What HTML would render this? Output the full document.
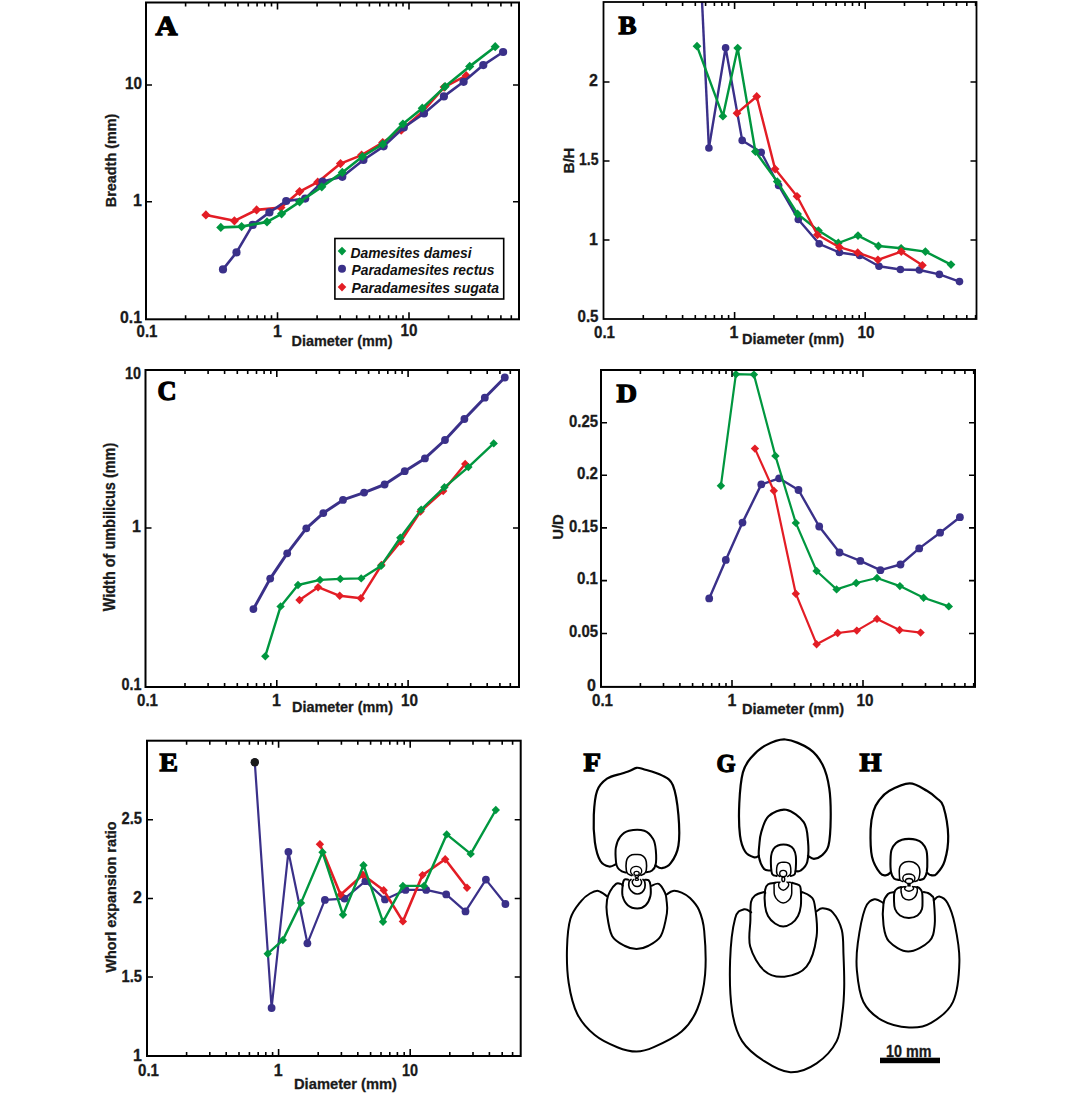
<!DOCTYPE html><html><head><meta charset="utf-8"><style>html,body{margin:0;padding:0;background:#fff;overflow:hidden}svg{display:block}</style></head><body>
<svg width="1081" height="1093" viewBox="0 0 1081 1093">
<rect width="1081" height="1093" fill="#fff"/>
<clipPath id="cA"><rect x="146" y="2.5" width="373" height="317"/></clipPath>
<path d="M205.9 214.9 L234.4 220.8 L256.6 209.9 L280.9 207.6 L299.6 191.6 L317.7 182.2 L340.5 163.6 L361.6 155.1 L382.7 142.5 L401.2 130.2 L423.1 111.2 L444.2 87.1 L466.2 75.7" stroke="#e31d25" stroke-width="2.6" fill="none" stroke-linejoin="round"/>
<path d="M205.9 210.3L210.5 214.9L205.9 219.5L201.3 214.9Z" fill="#e31d25"/>
<path d="M234.4 216.20000000000002L239.0 220.8L234.4 225.4L229.8 220.8Z" fill="#e31d25"/>
<path d="M256.6 205.3L261.20000000000005 209.9L256.6 214.5L252.00000000000003 209.9Z" fill="#e31d25"/>
<path d="M280.9 203.0L285.5 207.6L280.9 212.2L276.29999999999995 207.6Z" fill="#e31d25"/>
<path d="M299.6 187.0L304.20000000000005 191.6L299.6 196.2L295.0 191.6Z" fill="#e31d25"/>
<path d="M317.7 177.6L322.3 182.2L317.7 186.79999999999998L313.09999999999997 182.2Z" fill="#e31d25"/>
<path d="M340.5 159.0L345.1 163.6L340.5 168.2L335.9 163.6Z" fill="#e31d25"/>
<path d="M361.6 150.5L366.20000000000005 155.1L361.6 159.7L357.0 155.1Z" fill="#e31d25"/>
<path d="M382.7 137.9L387.3 142.5L382.7 147.1L378.09999999999997 142.5Z" fill="#e31d25"/>
<path d="M401.2 125.6L405.8 130.2L401.2 134.79999999999998L396.59999999999997 130.2Z" fill="#e31d25"/>
<path d="M423.1 106.60000000000001L427.70000000000005 111.2L423.1 115.8L418.5 111.2Z" fill="#e31d25"/>
<path d="M444.2 82.5L448.8 87.1L444.2 91.69999999999999L439.59999999999997 87.1Z" fill="#e31d25"/>
<path d="M466.2 71.10000000000001L470.8 75.7L466.2 80.3L461.59999999999997 75.7Z" fill="#e31d25"/>
<path d="M223 269.4 L236.5 252.4 L252.7 224.9 L269.4 212.4 L286.2 201 L305.2 198.6 L322.5 181.6 L342.3 176.8 L363.4 160 L383.6 146.3 L403.8 127.5 L424 113.5 L443.9 96.4 L463.6 81.8 L483.3 65.1 L503.1 52" stroke="#3a3089" stroke-width="2.6" fill="none" stroke-linejoin="round"/>
<circle cx="223" cy="269.4" r="4.1" fill="#3a3089"/>
<circle cx="236.5" cy="252.4" r="4.1" fill="#3a3089"/>
<circle cx="252.7" cy="224.9" r="4.1" fill="#3a3089"/>
<circle cx="269.4" cy="212.4" r="4.1" fill="#3a3089"/>
<circle cx="286.2" cy="201" r="4.1" fill="#3a3089"/>
<circle cx="305.2" cy="198.6" r="4.1" fill="#3a3089"/>
<circle cx="322.5" cy="181.6" r="4.1" fill="#3a3089"/>
<circle cx="342.3" cy="176.8" r="4.1" fill="#3a3089"/>
<circle cx="363.4" cy="160" r="4.1" fill="#3a3089"/>
<circle cx="383.6" cy="146.3" r="4.1" fill="#3a3089"/>
<circle cx="403.8" cy="127.5" r="4.1" fill="#3a3089"/>
<circle cx="424" cy="113.5" r="4.1" fill="#3a3089"/>
<circle cx="443.9" cy="96.4" r="4.1" fill="#3a3089"/>
<circle cx="463.6" cy="81.8" r="4.1" fill="#3a3089"/>
<circle cx="483.3" cy="65.1" r="4.1" fill="#3a3089"/>
<circle cx="503.1" cy="52" r="4.1" fill="#3a3089"/>
<path d="M220.8 227.4 L241.6 226.6 L267 221.9 L281.6 213.8 L299.6 201.8 L321.8 186.8 L342.3 172.4 L362.5 156.5 L382.7 144.2 L402.9 124 L422.3 108.2 L445.1 86.6 L469.7 66.4 L495.2 46.7" stroke="#00973f" stroke-width="2.6" fill="none" stroke-linejoin="round"/>
<path d="M220.8 222.8L225.4 227.4L220.8 232.0L216.20000000000002 227.4Z" fill="#00973f"/>
<path d="M241.6 222.0L246.2 226.6L241.6 231.2L237.0 226.6Z" fill="#00973f"/>
<path d="M267 217.3L271.6 221.9L267 226.5L262.4 221.9Z" fill="#00973f"/>
<path d="M281.6 209.20000000000002L286.20000000000005 213.8L281.6 218.4L277.0 213.8Z" fill="#00973f"/>
<path d="M299.6 197.20000000000002L304.20000000000005 201.8L299.6 206.4L295.0 201.8Z" fill="#00973f"/>
<path d="M321.8 182.20000000000002L326.40000000000003 186.8L321.8 191.4L317.2 186.8Z" fill="#00973f"/>
<path d="M342.3 167.8L346.90000000000003 172.4L342.3 177.0L337.7 172.4Z" fill="#00973f"/>
<path d="M362.5 151.9L367.1 156.5L362.5 161.1L357.9 156.5Z" fill="#00973f"/>
<path d="M382.7 139.6L387.3 144.2L382.7 148.79999999999998L378.09999999999997 144.2Z" fill="#00973f"/>
<path d="M402.9 119.4L407.5 124L402.9 128.6L398.29999999999995 124Z" fill="#00973f"/>
<path d="M422.3 103.60000000000001L426.90000000000003 108.2L422.3 112.8L417.7 108.2Z" fill="#00973f"/>
<path d="M445.1 82.0L449.70000000000005 86.6L445.1 91.19999999999999L440.5 86.6Z" fill="#00973f"/>
<path d="M469.7 61.800000000000004L474.3 66.4L469.7 71.0L465.09999999999997 66.4Z" fill="#00973f"/>
<path d="M495.2 42.1L499.8 46.7L495.2 51.300000000000004L490.59999999999997 46.7Z" fill="#00973f"/>
<rect x="146" y="2.5" width="373" height="316.8" fill="none" stroke="#000" stroke-width="2"/>
<path d="M185.6 319.3V315.3M185.6 2.5V6.5M208.7 319.3V315.3M208.7 2.5V6.5M225.2 319.3V315.3M225.2 2.5V6.5M237.9 319.3V315.3M237.9 2.5V6.5M248.3 319.3V315.3M248.3 2.5V6.5M257.1 319.3V315.3M257.1 2.5V6.5M264.8 319.3V315.3M264.8 2.5V6.5M271.5 319.3V315.3M271.5 2.5V6.5M277.5 319.3V312.3M277.5 2.5V9.5M317.1 319.3V315.3M317.1 2.5V6.5M340.2 319.3V315.3M340.2 2.5V6.5M356.7 319.3V315.3M356.7 2.5V6.5M369.4 319.3V315.3M369.4 2.5V6.5M379.8 319.3V315.3M379.8 2.5V6.5M388.6 319.3V315.3M388.6 2.5V6.5M396.3 319.3V315.3M396.3 2.5V6.5M403.0 319.3V315.3M403.0 2.5V6.5M409.0 319.3V312.3M409.0 2.5V9.5M448.6 319.3V315.3M448.6 2.5V6.5M471.7 319.3V315.3M471.7 2.5V6.5M488.2 319.3V315.3M488.2 2.5V6.5M500.9 319.3V315.3M500.9 2.5V6.5M511.3 319.3V315.3M511.3 2.5V6.5" stroke="#000" stroke-width="1.6" fill="none"/>
<path d="M146 85H152M519 85H513M146 201.7H152M519 201.7H513" stroke="#000" stroke-width="1.6" fill="none"/>
<text x="155.5" y="34.5" font-size="27" font-family="Liberation Serif, serif" font-weight="bold" fill="#000" stroke="#000" stroke-width="1.3" stroke-linejoin="miter" textLength="22" lengthAdjust="spacingAndGlyphs">A</text>
<text x="142" y="323" font-size="16" text-anchor="end" fill="#1a1a1a" textLength="22" lengthAdjust="spacingAndGlyphs" font-family="Liberation Sans, sans-serif" font-weight="bold" stroke="#1a1a1a" stroke-width="0.3" >0.1</text>
<text x="142" y="205.8" font-size="16" text-anchor="end" fill="#1a1a1a" font-family="Liberation Sans, sans-serif" font-weight="bold" stroke="#1a1a1a" stroke-width="0.3" >1</text>
<text x="142" y="89" font-size="16" text-anchor="end" fill="#1a1a1a" textLength="17" lengthAdjust="spacingAndGlyphs" font-family="Liberation Sans, sans-serif" font-weight="bold" stroke="#1a1a1a" stroke-width="0.3" >10</text>
<text x="147" y="337" font-size="16" text-anchor="middle" fill="#1a1a1a" textLength="21" lengthAdjust="spacingAndGlyphs" font-family="Liberation Sans, sans-serif" font-weight="bold" stroke="#1a1a1a" stroke-width="0.3" >0.1</text>
<text x="277.5" y="337" font-size="16" text-anchor="middle" fill="#1a1a1a" font-family="Liberation Sans, sans-serif" font-weight="bold" stroke="#1a1a1a" stroke-width="0.3" >1</text>
<text x="409" y="336" font-size="16" text-anchor="middle" fill="#1a1a1a" textLength="17" lengthAdjust="spacingAndGlyphs" font-family="Liberation Sans, sans-serif" font-weight="bold" stroke="#1a1a1a" stroke-width="0.3" >10</text>
<text x="342" y="346.0" font-size="15.5" text-anchor="middle" fill="#1a1a1a" textLength="101" lengthAdjust="spacingAndGlyphs" font-family="Liberation Sans, sans-serif" font-weight="bold" stroke="#1a1a1a" stroke-width="0.3" >Diameter (mm)</text>
<text x="0" y="0" font-size="14.5" text-anchor="middle" fill="#1a1a1a" textLength="93.5" lengthAdjust="spacingAndGlyphs" font-family="Liberation Sans, sans-serif" font-weight="bold" stroke="#1a1a1a" stroke-width="0.3" transform="translate(110.8,160.4) rotate(-90)" dominant-baseline="central">Breadth (mm)</text>
<rect x="334.9" y="238.5" width="168.8" height="60.5" fill="#fff" stroke="#000" stroke-width="1.6"/>
<path d="M342 246.79999999999998L346.3 251.1L342 255.4L337.7 251.1Z" fill="#00973f"/>
<circle cx="342" cy="268.7" r="4" fill="#3a3089"/>
<path d="M342 282.8L346.3 287.1L342 291.40000000000003L337.7 287.1Z" fill="#e31d25"/>
<text x="350.5" y="258" font-size="15" fill="#111" textLength="121" lengthAdjust="spacingAndGlyphs" font-family="Liberation Sans, sans-serif" font-weight="bold" font-style="italic">Damesites damesi</text>
<text x="351.5" y="275" font-size="15" fill="#111" textLength="143" lengthAdjust="spacingAndGlyphs" font-family="Liberation Sans, sans-serif" font-weight="bold" font-style="italic">Paradamesites rectus</text>
<text x="351.5" y="292.5" font-size="15" fill="#111" textLength="147.5" lengthAdjust="spacingAndGlyphs" font-family="Liberation Sans, sans-serif" font-weight="bold" font-style="italic">Paradamesites sugata</text>
<clipPath id="cB"><rect x="604" y="2" width="372.5" height="317"/></clipPath>
<g clip-path="url(#cB)">
<path d="M701.5 -10 L708.9 148" stroke="#3a3089" stroke-width="2.4" fill="none"/>
<path d="M708.9 148 L725.6 47.7 L742.2 140.4 L761.2 152.2 L778.6 185.5 L798.3 219.5 L819.2 243.8 L839.4 252.5 L859.7 255.5 L879 266.2 L900.4 269.5 L919.4 270 L939.4 274.4 L959.5 281.6" stroke="#3a3089" stroke-width="2.4" fill="none" stroke-linejoin="round"/>
<circle cx="708.9" cy="148" r="3.8" fill="#3a3089"/>
<circle cx="725.6" cy="47.7" r="3.8" fill="#3a3089"/>
<circle cx="742.2" cy="140.4" r="3.8" fill="#3a3089"/>
<circle cx="761.2" cy="152.2" r="3.8" fill="#3a3089"/>
<circle cx="778.6" cy="185.5" r="3.8" fill="#3a3089"/>
<circle cx="798.3" cy="219.5" r="3.8" fill="#3a3089"/>
<circle cx="819.2" cy="243.8" r="3.8" fill="#3a3089"/>
<circle cx="839.4" cy="252.5" r="3.8" fill="#3a3089"/>
<circle cx="859.7" cy="255.5" r="3.8" fill="#3a3089"/>
<circle cx="879" cy="266.2" r="3.8" fill="#3a3089"/>
<circle cx="900.4" cy="269.5" r="3.8" fill="#3a3089"/>
<circle cx="919.4" cy="270" r="3.8" fill="#3a3089"/>
<circle cx="939.4" cy="274.4" r="3.8" fill="#3a3089"/>
<circle cx="959.5" cy="281.6" r="3.8" fill="#3a3089"/>
<path d="M697 46.2 L722.9 116.2 L737.7 48.1 L755.4 151.5 L777.2 181.6 L797.6 214 L818.4 230.6 L838.3 243 L858 235.6 L878.4 246 L901.1 248.3 L925.4 251.6 L951 264.6" stroke="#00973f" stroke-width="2.4" fill="none" stroke-linejoin="round"/>
<path d="M697 41.800000000000004L701.4 46.2L697 50.6L692.6 46.2Z" fill="#00973f"/>
<path d="M722.9 111.8L727.3 116.2L722.9 120.60000000000001L718.5 116.2Z" fill="#00973f"/>
<path d="M737.7 43.7L742.1 48.1L737.7 52.5L733.3000000000001 48.1Z" fill="#00973f"/>
<path d="M755.4 147.1L759.8 151.5L755.4 155.9L751.0 151.5Z" fill="#00973f"/>
<path d="M777.2 177.2L781.6 181.6L777.2 186.0L772.8000000000001 181.6Z" fill="#00973f"/>
<path d="M797.6 209.6L802.0 214L797.6 218.4L793.2 214Z" fill="#00973f"/>
<path d="M818.4 226.2L822.8 230.6L818.4 235.0L814.0 230.6Z" fill="#00973f"/>
<path d="M838.3 238.6L842.6999999999999 243L838.3 247.4L833.9 243Z" fill="#00973f"/>
<path d="M858 231.2L862.4 235.6L858 240.0L853.6 235.6Z" fill="#00973f"/>
<path d="M878.4 241.6L882.8 246L878.4 250.4L874.0 246Z" fill="#00973f"/>
<path d="M901.1 243.9L905.5 248.3L901.1 252.70000000000002L896.7 248.3Z" fill="#00973f"/>
<path d="M925.4 247.2L929.8 251.6L925.4 256.0L921.0 251.6Z" fill="#00973f"/>
<path d="M951 260.20000000000005L955.4 264.6L951 269.0L946.6 264.6Z" fill="#00973f"/>
<path d="M737 113.2 L756.7 96.5 L775.1 169.1 L797 196.3 L817.4 234.8 L839.4 247.2 L857.7 252.7 L877.9 259.8 L901.3 251.6 L922.4 265.3" stroke="#e31d25" stroke-width="2.4" fill="none" stroke-linejoin="round"/>
<path d="M737 108.8L741.4 113.2L737 117.60000000000001L732.6 113.2Z" fill="#e31d25"/>
<path d="M756.7 92.1L761.1 96.5L756.7 100.9L752.3000000000001 96.5Z" fill="#e31d25"/>
<path d="M775.1 164.7L779.5 169.1L775.1 173.5L770.7 169.1Z" fill="#e31d25"/>
<path d="M797 191.9L801.4 196.3L797 200.70000000000002L792.6 196.3Z" fill="#e31d25"/>
<path d="M817.4 230.4L821.8 234.8L817.4 239.20000000000002L813.0 234.8Z" fill="#e31d25"/>
<path d="M839.4 242.79999999999998L843.8 247.2L839.4 251.6L835.0 247.2Z" fill="#e31d25"/>
<path d="M857.7 248.29999999999998L862.1 252.7L857.7 257.09999999999997L853.3000000000001 252.7Z" fill="#e31d25"/>
<path d="M877.9 255.4L882.3 259.8L877.9 264.2L873.5 259.8Z" fill="#e31d25"/>
<path d="M901.3 247.2L905.6999999999999 251.6L901.3 256.0L896.9 251.6Z" fill="#e31d25"/>
<path d="M922.4 260.90000000000003L926.8 265.3L922.4 269.7L918.0 265.3Z" fill="#e31d25"/>
</g>
<rect x="603.5" y="2" width="373.0" height="317" fill="none" stroke="#000" stroke-width="1.8"/>
<path d="M643.3 319V315M643.3 2V6M666.3 319V315M666.3 2V6M682.6 319V315M682.6 2V6M695.3 319V315M695.3 2V6M705.6 319V315M705.6 2V6M714.4 319V315M714.4 2V6M721.9 319V315M721.9 2V6M728.6 319V315M728.6 2V6M734.6 319V312M734.6 2V9M773.9 319V315M773.9 2V6M796.9 319V315M796.9 2V6M813.2 319V315M813.2 2V6M825.9 319V315M825.9 2V6M836.2 319V315M836.2 2V6M845.0 319V315M845.0 2V6M852.5 319V315M852.5 2V6M859.2 319V315M859.2 2V6M865.2 319V312M865.2 2V9M904.5 319V315M904.5 2V6M927.5 319V315M927.5 2V6M943.8 319V315M943.8 2V6M956.5 319V315M956.5 2V6M966.8 319V315M966.8 2V6M975.6 319V315M975.6 2V6" stroke="#000" stroke-width="1.6" fill="none"/>
<path d="M603.5 82H609.5M976.5 82H970.5M603.5 161H609.5M976.5 161H970.5M603.5 240H609.5M976.5 240H970.5" stroke="#000" stroke-width="1.6" fill="none"/>
<text x="618.5" y="34.2" font-size="26" font-family="Liberation Serif, serif" font-weight="bold" fill="#000" stroke="#000" stroke-width="1.3" stroke-linejoin="miter" textLength="18" lengthAdjust="spacingAndGlyphs">B</text>
<text x="598.5" y="322" font-size="16" text-anchor="end" fill="#1a1a1a" textLength="21" lengthAdjust="spacingAndGlyphs" font-family="Liberation Sans, sans-serif" font-weight="bold" stroke="#1a1a1a" stroke-width="0.3" >0.5</text>
<text x="598" y="244.5" font-size="16" text-anchor="end" fill="#1a1a1a" font-family="Liberation Sans, sans-serif" font-weight="bold" stroke="#1a1a1a" stroke-width="0.3" >1</text>
<text x="598.5" y="164.8" font-size="16" text-anchor="end" fill="#1a1a1a" textLength="19.5" lengthAdjust="spacingAndGlyphs" font-family="Liberation Sans, sans-serif" font-weight="bold" stroke="#1a1a1a" stroke-width="0.3" >1.5</text>
<text x="598" y="86" font-size="16" text-anchor="end" fill="#1a1a1a" font-family="Liberation Sans, sans-serif" font-weight="bold" stroke="#1a1a1a" stroke-width="0.3" >2</text>
<text x="604.5" y="338" font-size="16" text-anchor="middle" fill="#1a1a1a" textLength="21" lengthAdjust="spacingAndGlyphs" font-family="Liberation Sans, sans-serif" font-weight="bold" stroke="#1a1a1a" stroke-width="0.3" >0.1</text>
<text x="734" y="338" font-size="16" text-anchor="middle" fill="#1a1a1a" font-family="Liberation Sans, sans-serif" font-weight="bold" stroke="#1a1a1a" stroke-width="0.3" >1</text>
<text x="866" y="338" font-size="16" text-anchor="middle" fill="#1a1a1a" textLength="17" lengthAdjust="spacingAndGlyphs" font-family="Liberation Sans, sans-serif" font-weight="bold" stroke="#1a1a1a" stroke-width="0.3" >10</text>
<text x="793" y="344.0" font-size="15.5" text-anchor="middle" fill="#1a1a1a" textLength="102" lengthAdjust="spacingAndGlyphs" font-family="Liberation Sans, sans-serif" font-weight="bold" stroke="#1a1a1a" stroke-width="0.3" >Diameter (mm)</text>
<text x="0" y="0" font-size="15.5" text-anchor="middle" fill="#1a1a1a" textLength="25.5" lengthAdjust="spacingAndGlyphs" font-family="Liberation Sans, sans-serif" font-weight="bold" stroke="#1a1a1a" stroke-width="0.3" transform="translate(568,160.5) rotate(-90)" dominant-baseline="central">B/H</text>
<path d="M253.4 609.1 L270.2 578.6 L287.2 553.3 L306.3 528.3 L323.3 513.1 L343 499.9 L364.1 492.6 L384.6 484.5 L404.7 471.2 L424.9 458.4 L445 440 L464.4 419 L484.8 397.7 L504.8 377.5" stroke="#3a3089" stroke-width="3" fill="none" stroke-linejoin="round"/>
<circle cx="253.4" cy="609.1" r="3.9" fill="#3a3089"/>
<circle cx="270.2" cy="578.6" r="3.9" fill="#3a3089"/>
<circle cx="287.2" cy="553.3" r="3.9" fill="#3a3089"/>
<circle cx="306.3" cy="528.3" r="3.9" fill="#3a3089"/>
<circle cx="323.3" cy="513.1" r="3.9" fill="#3a3089"/>
<circle cx="343" cy="499.9" r="3.9" fill="#3a3089"/>
<circle cx="364.1" cy="492.6" r="3.9" fill="#3a3089"/>
<circle cx="384.6" cy="484.5" r="3.9" fill="#3a3089"/>
<circle cx="404.7" cy="471.2" r="3.9" fill="#3a3089"/>
<circle cx="424.9" cy="458.4" r="3.9" fill="#3a3089"/>
<circle cx="445" cy="440" r="3.9" fill="#3a3089"/>
<circle cx="464.4" cy="419" r="3.9" fill="#3a3089"/>
<circle cx="484.8" cy="397.7" r="3.9" fill="#3a3089"/>
<circle cx="504.8" cy="377.5" r="3.9" fill="#3a3089"/>
<path d="M299.5 600 L318.1 587.2 L339.7 595.8 L360.8 598.2 L381.5 565 L400.7 541.5 L420.5 511.5 L443.2 491 L465.2 463.9" stroke="#e31d25" stroke-width="2.4" fill="none" stroke-linejoin="round"/>
<path d="M299.5 595.8L303.7 600L299.5 604.2L295.3 600Z" fill="#e31d25"/>
<path d="M318.1 583.0L322.3 587.2L318.1 591.4000000000001L313.90000000000003 587.2Z" fill="#e31d25"/>
<path d="M339.7 591.5999999999999L343.9 595.8L339.7 600.0L335.5 595.8Z" fill="#e31d25"/>
<path d="M360.8 594.0L365.0 598.2L360.8 602.4000000000001L356.6 598.2Z" fill="#e31d25"/>
<path d="M381.5 560.8L385.7 565L381.5 569.2L377.3 565Z" fill="#e31d25"/>
<path d="M400.7 537.3L404.9 541.5L400.7 545.7L396.5 541.5Z" fill="#e31d25"/>
<path d="M420.5 507.3L424.7 511.5L420.5 515.7L416.3 511.5Z" fill="#e31d25"/>
<path d="M443.2 486.8L447.4 491L443.2 495.2L439.0 491Z" fill="#e31d25"/>
<path d="M465.2 459.7L469.4 463.9L465.2 468.09999999999997L461.0 463.9Z" fill="#e31d25"/>
<path d="M265.3 656.2 L280.6 606.4 L298 585 L320 579.9 L340.3 578.9 L361.2 578.4 L381 565.9 L400.3 537.8 L421.2 509.6 L444.4 487.3 L468.4 467.1 L493.7 443.4" stroke="#00973f" stroke-width="2.4" fill="none" stroke-linejoin="round"/>
<path d="M265.3 652.0L269.5 656.2L265.3 660.4000000000001L261.1 656.2Z" fill="#00973f"/>
<path d="M280.6 602.1999999999999L284.8 606.4L280.6 610.6L276.40000000000003 606.4Z" fill="#00973f"/>
<path d="M298 580.8L302.2 585L298 589.2L293.8 585Z" fill="#00973f"/>
<path d="M320 575.6999999999999L324.2 579.9L320 584.1L315.8 579.9Z" fill="#00973f"/>
<path d="M340.3 574.6999999999999L344.5 578.9L340.3 583.1L336.1 578.9Z" fill="#00973f"/>
<path d="M361.2 574.1999999999999L365.4 578.4L361.2 582.6L357.0 578.4Z" fill="#00973f"/>
<path d="M381 561.6999999999999L385.2 565.9L381 570.1L376.8 565.9Z" fill="#00973f"/>
<path d="M400.3 533.5999999999999L404.5 537.8L400.3 542.0L396.1 537.8Z" fill="#00973f"/>
<path d="M421.2 505.40000000000003L425.4 509.6L421.2 513.8000000000001L417.0 509.6Z" fill="#00973f"/>
<path d="M444.4 483.1L448.59999999999997 487.3L444.4 491.5L440.2 487.3Z" fill="#00973f"/>
<path d="M468.4 462.90000000000003L472.59999999999997 467.1L468.4 471.3L464.2 467.1Z" fill="#00973f"/>
<path d="M493.7 439.2L497.9 443.4L493.7 447.59999999999997L489.5 443.4Z" fill="#00973f"/>
<rect x="145.5" y="370" width="373.5" height="317" fill="none" stroke="#000" stroke-width="2"/>
<path d="M185.0 687V683M185.0 370V374M208.1 687V683M208.1 370V374M224.6 687V683M224.6 370V374M237.3 687V683M237.3 370V374M247.7 687V683M247.7 370V374M256.5 687V683M256.5 370V374M264.1 687V683M264.1 370V374M270.8 687V683M270.8 370V374M276.8 687V680M276.8 370V377M316.3 687V683M316.3 370V374M339.4 687V683M339.4 370V374M355.9 687V683M355.9 370V374M368.6 687V683M368.6 370V374M379.0 687V683M379.0 370V374M387.8 687V683M387.8 370V374M395.4 687V683M395.4 370V374M402.1 687V683M402.1 370V374M408.1 687V680M408.1 370V377M447.6 687V683M447.6 370V374M470.7 687V683M470.7 370V374M487.2 687V683M487.2 370V374M499.9 687V683M499.9 370V374M510.3 687V683M510.3 370V374" stroke="#000" stroke-width="1.6" fill="none"/>
<path d="M145.5 528H151.5M519 528H513" stroke="#000" stroke-width="1.6" fill="none"/>
<text x="157.5" y="399.5" font-size="27" font-family="Liberation Serif, serif" font-weight="bold" fill="#000" stroke="#000" stroke-width="1.3" stroke-linejoin="miter" textLength="19" lengthAdjust="spacingAndGlyphs">C</text>
<text x="141.5" y="690" font-size="16" text-anchor="end" fill="#1a1a1a" textLength="20" lengthAdjust="spacingAndGlyphs" font-family="Liberation Sans, sans-serif" font-weight="bold" stroke="#1a1a1a" stroke-width="0.3" >0.1</text>
<text x="141" y="532.3" font-size="16" text-anchor="end" fill="#1a1a1a" font-family="Liberation Sans, sans-serif" font-weight="bold" stroke="#1a1a1a" stroke-width="0.3" >1</text>
<text x="141" y="379" font-size="16" text-anchor="end" fill="#1a1a1a" textLength="16" lengthAdjust="spacingAndGlyphs" font-family="Liberation Sans, sans-serif" font-weight="bold" stroke="#1a1a1a" stroke-width="0.3" >10</text>
<text x="147.5" y="706" font-size="16" text-anchor="middle" fill="#1a1a1a" textLength="21" lengthAdjust="spacingAndGlyphs" font-family="Liberation Sans, sans-serif" font-weight="bold" stroke="#1a1a1a" stroke-width="0.3" >0.1</text>
<text x="276.5" y="706" font-size="16" text-anchor="middle" fill="#1a1a1a" font-family="Liberation Sans, sans-serif" font-weight="bold" stroke="#1a1a1a" stroke-width="0.3" >1</text>
<text x="409.5" y="705.5" font-size="16" text-anchor="middle" fill="#1a1a1a" textLength="17" lengthAdjust="spacingAndGlyphs" font-family="Liberation Sans, sans-serif" font-weight="bold" stroke="#1a1a1a" stroke-width="0.3" >10</text>
<text x="342.5" y="711.5" font-size="15.5" text-anchor="middle" fill="#1a1a1a" textLength="101" lengthAdjust="spacingAndGlyphs" font-family="Liberation Sans, sans-serif" font-weight="bold" stroke="#1a1a1a" stroke-width="0.3" >Diameter (mm)</text>
<text x="0" y="0" font-size="16" text-anchor="middle" fill="#1a1a1a" textLength="168.5" lengthAdjust="spacingAndGlyphs" font-family="Liberation Sans, sans-serif" font-weight="bold" stroke="#1a1a1a" stroke-width="0.3" transform="translate(109.8,527) rotate(-90)" dominant-baseline="central">Width of umbilicus (mm)</text>
<path d="M709.2 598.4 L725.8 559.9 L742.5 522.6 L761.3 484.4 L779.1 478.3 L798.5 490 L819.2 526.5 L839.5 552.5 L860.3 560.9 L880.4 570.2 L900.5 564.5 L919.2 548.4 L940.1 532.7 L959.9 517.2" stroke="#3a3089" stroke-width="2.4" fill="none" stroke-linejoin="round"/>
<circle cx="709.2" cy="598.4" r="3.9" fill="#3a3089"/>
<circle cx="725.8" cy="559.9" r="3.9" fill="#3a3089"/>
<circle cx="742.5" cy="522.6" r="3.9" fill="#3a3089"/>
<circle cx="761.3" cy="484.4" r="3.9" fill="#3a3089"/>
<circle cx="779.1" cy="478.3" r="3.9" fill="#3a3089"/>
<circle cx="798.5" cy="490" r="3.9" fill="#3a3089"/>
<circle cx="819.2" cy="526.5" r="3.9" fill="#3a3089"/>
<circle cx="839.5" cy="552.5" r="3.9" fill="#3a3089"/>
<circle cx="860.3" cy="560.9" r="3.9" fill="#3a3089"/>
<circle cx="880.4" cy="570.2" r="3.9" fill="#3a3089"/>
<circle cx="900.5" cy="564.5" r="3.9" fill="#3a3089"/>
<circle cx="919.2" cy="548.4" r="3.9" fill="#3a3089"/>
<circle cx="940.1" cy="532.7" r="3.9" fill="#3a3089"/>
<circle cx="959.9" cy="517.2" r="3.9" fill="#3a3089"/>
<path d="M720.9 485.7 L735.9 374.2 L753.9 374.6 L775.4 455.9 L795.8 522.9 L816.6 571 L836.6 589.4 L856.2 583 L877 578 L899.9 586.1 L923.6 597.8 L948.8 606.4" stroke="#00973f" stroke-width="2.2" fill="none" stroke-linejoin="round"/>
<path d="M720.9 481.5L725.1 485.7L720.9 489.9L716.6999999999999 485.7Z" fill="#00973f"/>
<path d="M735.9 370.0L740.1 374.2L735.9 378.4L731.6999999999999 374.2Z" fill="#00973f"/>
<path d="M753.9 370.40000000000003L758.1 374.6L753.9 378.8L749.6999999999999 374.6Z" fill="#00973f"/>
<path d="M775.4 451.7L779.6 455.9L775.4 460.09999999999997L771.1999999999999 455.9Z" fill="#00973f"/>
<path d="M795.8 518.6999999999999L800.0 522.9L795.8 527.1L791.5999999999999 522.9Z" fill="#00973f"/>
<path d="M816.6 566.8L820.8000000000001 571L816.6 575.2L812.4 571Z" fill="#00973f"/>
<path d="M836.6 585.1999999999999L840.8000000000001 589.4L836.6 593.6L832.4 589.4Z" fill="#00973f"/>
<path d="M856.2 578.8L860.4000000000001 583L856.2 587.2L852.0 583Z" fill="#00973f"/>
<path d="M877 573.8L881.2 578L877 582.2L872.8 578Z" fill="#00973f"/>
<path d="M899.9 581.9L904.1 586.1L899.9 590.3000000000001L895.6999999999999 586.1Z" fill="#00973f"/>
<path d="M923.6 593.5999999999999L927.8000000000001 597.8L923.6 602.0L919.4 597.8Z" fill="#00973f"/>
<path d="M948.8 602.1999999999999L953.0 606.4L948.8 610.6L944.5999999999999 606.4Z" fill="#00973f"/>
<path d="M754.9 448.6 L773.8 490.7 L795.8 593.7 L816.6 644.2 L837.7 633 L856.8 630.6 L877 618.9 L899.5 630 L920.6 632.6" stroke="#e31d25" stroke-width="2.2" fill="none" stroke-linejoin="round"/>
<path d="M754.9 444.40000000000003L759.1 448.6L754.9 452.8L750.6999999999999 448.6Z" fill="#e31d25"/>
<path d="M773.8 486.5L778.0 490.7L773.8 494.9L769.5999999999999 490.7Z" fill="#e31d25"/>
<path d="M795.8 589.5L800.0 593.7L795.8 597.9000000000001L791.5999999999999 593.7Z" fill="#e31d25"/>
<path d="M816.6 640.0L820.8000000000001 644.2L816.6 648.4000000000001L812.4 644.2Z" fill="#e31d25"/>
<path d="M837.7 628.8L841.9000000000001 633L837.7 637.2L833.5 633Z" fill="#e31d25"/>
<path d="M856.8 626.4L861.0 630.6L856.8 634.8000000000001L852.5999999999999 630.6Z" fill="#e31d25"/>
<path d="M877 614.6999999999999L881.2 618.9L877 623.1L872.8 618.9Z" fill="#e31d25"/>
<path d="M899.5 625.8L903.7 630L899.5 634.2L895.3 630Z" fill="#e31d25"/>
<path d="M920.6 628.4L924.8000000000001 632.6L920.6 636.8000000000001L916.4 632.6Z" fill="#e31d25"/>
<rect x="601" y="370" width="374" height="316.9" fill="none" stroke="#000" stroke-width="2"/>
<path d="M640.4 686.9V682.9M640.4 370V374M663.5 686.9V682.9M663.5 370V374M679.9 686.9V682.9M679.9 370V374M692.6 686.9V682.9M692.6 370V374M702.9 686.9V682.9M702.9 370V374M711.7 686.9V682.9M711.7 370V374M719.3 686.9V682.9M719.3 370V374M726.0 686.9V682.9M726.0 370V374M732.0 686.9V679.9M732.0 370V377M771.4 686.9V682.9M771.4 370V374M794.5 686.9V682.9M794.5 370V374M810.9 686.9V682.9M810.9 370V374M823.6 686.9V682.9M823.6 370V374M833.9 686.9V682.9M833.9 370V374M842.7 686.9V682.9M842.7 370V374M850.3 686.9V682.9M850.3 370V374M857.0 686.9V682.9M857.0 370V374M863.0 686.9V679.9M863.0 370V377M902.4 686.9V682.9M902.4 370V374M925.5 686.9V682.9M925.5 370V374M941.9 686.9V682.9M941.9 370V374M954.6 686.9V682.9M954.6 370V374M964.9 686.9V682.9M964.9 370V374M973.7 686.9V682.9M973.7 370V374" stroke="#000" stroke-width="1.6" fill="none"/>
<path d="M601 633.5H607M975 633.5H969M601 580.6H607M975 580.6H969M601 527.9H607M975 527.9H969M601 475.2H607M975 475.2H969M601 422.8H607M975 422.8H969" stroke="#000" stroke-width="1.6" fill="none"/>
<text x="616.5" y="401.5" font-size="26" font-family="Liberation Serif, serif" font-weight="bold" fill="#000" stroke="#000" stroke-width="1.3" stroke-linejoin="miter" textLength="20.5" lengthAdjust="spacingAndGlyphs">D</text>
<text x="596" y="690.5" font-size="16" text-anchor="end" fill="#1a1a1a" font-family="Liberation Sans, sans-serif" font-weight="bold" stroke="#1a1a1a" stroke-width="0.3" >0</text>
<text x="598" y="637.2" font-size="16" text-anchor="end" fill="#1a1a1a" textLength="29" lengthAdjust="spacingAndGlyphs" font-family="Liberation Sans, sans-serif" font-weight="bold" stroke="#1a1a1a" stroke-width="0.3" >0.05</text>
<text x="598" y="584.2" font-size="16" text-anchor="end" fill="#1a1a1a" textLength="21" lengthAdjust="spacingAndGlyphs" font-family="Liberation Sans, sans-serif" font-weight="bold" stroke="#1a1a1a" stroke-width="0.3" >0.1</text>
<text x="598" y="531.7" font-size="16" text-anchor="end" fill="#1a1a1a" textLength="29" lengthAdjust="spacingAndGlyphs" font-family="Liberation Sans, sans-serif" font-weight="bold" stroke="#1a1a1a" stroke-width="0.3" >0.15</text>
<text x="598" y="478.7" font-size="16" text-anchor="end" fill="#1a1a1a" textLength="21" lengthAdjust="spacingAndGlyphs" font-family="Liberation Sans, sans-serif" font-weight="bold" stroke="#1a1a1a" stroke-width="0.3" >0.2</text>
<text x="598" y="426.7" font-size="16" text-anchor="end" fill="#1a1a1a" textLength="29" lengthAdjust="spacingAndGlyphs" font-family="Liberation Sans, sans-serif" font-weight="bold" stroke="#1a1a1a" stroke-width="0.3" >0.25</text>
<text x="602.5" y="706" font-size="16" text-anchor="middle" fill="#1a1a1a" textLength="21" lengthAdjust="spacingAndGlyphs" font-family="Liberation Sans, sans-serif" font-weight="bold" stroke="#1a1a1a" stroke-width="0.3" >0.1</text>
<text x="732" y="706" font-size="16" text-anchor="middle" fill="#1a1a1a" font-family="Liberation Sans, sans-serif" font-weight="bold" stroke="#1a1a1a" stroke-width="0.3" >1</text>
<text x="865" y="705.5" font-size="16" text-anchor="middle" fill="#1a1a1a" textLength="17" lengthAdjust="spacingAndGlyphs" font-family="Liberation Sans, sans-serif" font-weight="bold" stroke="#1a1a1a" stroke-width="0.3" >10</text>
<text x="793" y="714.0" font-size="15.5" text-anchor="middle" fill="#1a1a1a" textLength="102" lengthAdjust="spacingAndGlyphs" font-family="Liberation Sans, sans-serif" font-weight="bold" stroke="#1a1a1a" stroke-width="0.3" >Diameter (mm)</text>
<text x="0" y="0" font-size="15.5" text-anchor="middle" fill="#1a1a1a" textLength="25.5" lengthAdjust="spacingAndGlyphs" font-family="Liberation Sans, sans-serif" font-weight="bold" stroke="#1a1a1a" stroke-width="0.3" transform="translate(557,527) rotate(-90)" dominant-baseline="central">U/D</text>
<path d="M254.8 762.3 L271.6 1008 L288.4 851.8 L307.4 943.3 L324.9 899.9 L344.5 898.6 L365.4 881.2 L385 899.4 L405.5 889.9 L426.2 889.9 L446.2 894.4 L465.5 911.4 L485.9 879.6 L505.4 904" stroke="#3a3089" stroke-width="2.2" fill="none" stroke-linejoin="round"/>
<circle cx="254.8" cy="762.3" r="3.9" fill="#3a3089"/>
<circle cx="271.6" cy="1008" r="3.9" fill="#3a3089"/>
<circle cx="288.4" cy="851.8" r="3.9" fill="#3a3089"/>
<circle cx="307.4" cy="943.3" r="3.9" fill="#3a3089"/>
<circle cx="324.9" cy="899.9" r="3.9" fill="#3a3089"/>
<circle cx="344.5" cy="898.6" r="3.9" fill="#3a3089"/>
<circle cx="365.4" cy="881.2" r="3.9" fill="#3a3089"/>
<circle cx="385" cy="899.4" r="3.9" fill="#3a3089"/>
<circle cx="405.5" cy="889.9" r="3.9" fill="#3a3089"/>
<circle cx="426.2" cy="889.9" r="3.9" fill="#3a3089"/>
<circle cx="446.2" cy="894.4" r="3.9" fill="#3a3089"/>
<circle cx="465.5" cy="911.4" r="3.9" fill="#3a3089"/>
<circle cx="485.9" cy="879.6" r="3.9" fill="#3a3089"/>
<circle cx="505.4" cy="904" r="3.9" fill="#3a3089"/>
<circle cx="254.8" cy="762.3" r="4.2" fill="#1a1a1a"/>
<path d="M319.9 844.2 L340.6 894.8 L362.9 874.7 L383.7 890.2 L402.9 921.4 L422.5 875.1 L445.2 859.3 L467 887.7" stroke="#e31d25" stroke-width="2.6" fill="none" stroke-linejoin="round"/>
<path d="M319.9 840.0L324.09999999999997 844.2L319.9 848.4000000000001L315.7 844.2Z" fill="#e31d25"/>
<path d="M340.6 890.5999999999999L344.8 894.8L340.6 899.0L336.40000000000003 894.8Z" fill="#e31d25"/>
<path d="M362.9 870.5L367.09999999999997 874.7L362.9 878.9000000000001L358.7 874.7Z" fill="#e31d25"/>
<path d="M383.7 886.0L387.9 890.2L383.7 894.4000000000001L379.5 890.2Z" fill="#e31d25"/>
<path d="M402.9 917.1999999999999L407.09999999999997 921.4L402.9 925.6L398.7 921.4Z" fill="#e31d25"/>
<path d="M422.5 870.9L426.7 875.1L422.5 879.3000000000001L418.3 875.1Z" fill="#e31d25"/>
<path d="M445.2 855.0999999999999L449.4 859.3L445.2 863.5L441.0 859.3Z" fill="#e31d25"/>
<path d="M467 883.5L471.2 887.7L467 891.9000000000001L462.8 887.7Z" fill="#e31d25"/>
<path d="M267.7 953.7 L282.8 940.1 L301 902.9 L322.5 852.3 L343 914.8 L363.5 865.2 L383 921.8 L402.9 885.9 L424 885.9 L446.7 834.4 L470.7 853.9 L495.8 810" stroke="#00973f" stroke-width="2.4" fill="none" stroke-linejoin="round"/>
<path d="M267.7 949.5L271.9 953.7L267.7 957.9000000000001L263.5 953.7Z" fill="#00973f"/>
<path d="M282.8 935.9L287.0 940.1L282.8 944.3000000000001L278.6 940.1Z" fill="#00973f"/>
<path d="M301 898.6999999999999L305.2 902.9L301 907.1L296.8 902.9Z" fill="#00973f"/>
<path d="M322.5 848.0999999999999L326.7 852.3L322.5 856.5L318.3 852.3Z" fill="#00973f"/>
<path d="M343 910.5999999999999L347.2 914.8L343 919.0L338.8 914.8Z" fill="#00973f"/>
<path d="M363.5 861.0L367.7 865.2L363.5 869.4000000000001L359.3 865.2Z" fill="#00973f"/>
<path d="M383 917.5999999999999L387.2 921.8L383 926.0L378.8 921.8Z" fill="#00973f"/>
<path d="M402.9 881.6999999999999L407.09999999999997 885.9L402.9 890.1L398.7 885.9Z" fill="#00973f"/>
<path d="M424 881.6999999999999L428.2 885.9L424 890.1L419.8 885.9Z" fill="#00973f"/>
<path d="M446.7 830.1999999999999L450.9 834.4L446.7 838.6L442.5 834.4Z" fill="#00973f"/>
<path d="M470.7 849.6999999999999L474.9 853.9L470.7 858.1L466.5 853.9Z" fill="#00973f"/>
<path d="M495.8 805.8L500.0 810L495.8 814.2L491.6 810Z" fill="#00973f"/>
<rect x="147" y="740.7" width="373.70000000000005" height="315.29999999999995" fill="none" stroke="#000" stroke-width="2"/>
<path d="M186.6 1056V1052M186.6 740.7V744.7M209.8 1056V1052M209.8 740.7V744.7M226.2 1056V1052M226.2 740.7V744.7M239.0 1056V1052M239.0 740.7V744.7M249.4 1056V1052M249.4 740.7V744.7M258.2 1056V1052M258.2 740.7V744.7M265.8 1056V1052M265.8 740.7V744.7M272.6 1056V1052M272.6 740.7V744.7M278.6 1056V1049M278.6 740.7V747.7M318.2 1056V1052M318.2 740.7V744.7M341.4 1056V1052M341.4 740.7V744.7M357.8 1056V1052M357.8 740.7V744.7M370.6 1056V1052M370.6 740.7V744.7M381.0 1056V1052M381.0 740.7V744.7M389.8 1056V1052M389.8 740.7V744.7M397.4 1056V1052M397.4 740.7V744.7M404.2 1056V1052M404.2 740.7V744.7M410.2 1056V1049M410.2 740.7V747.7M449.8 1056V1052M449.8 740.7V744.7M473.0 1056V1052M473.0 740.7V744.7M489.4 1056V1052M489.4 740.7V744.7M502.2 1056V1052M502.2 740.7V744.7M512.6 1056V1052M512.6 740.7V744.7" stroke="#000" stroke-width="1.6" fill="none"/>
<path d="M147 819.7H153M520.7 819.7H514.7M147 898.5H153M520.7 898.5H514.7M147 977H153M520.7 977H514.7" stroke="#000" stroke-width="1.6" fill="none"/>
<text x="159.5" y="770.8" font-size="26" font-family="Liberation Serif, serif" font-weight="bold" fill="#000" stroke="#000" stroke-width="1.3" stroke-linejoin="miter" textLength="18.5" lengthAdjust="spacingAndGlyphs">E</text>
<text x="142" y="1061" font-size="16" text-anchor="end" fill="#1a1a1a" font-family="Liberation Sans, sans-serif" font-weight="bold" stroke="#1a1a1a" stroke-width="0.3" >1</text>
<text x="142" y="982" font-size="16" text-anchor="end" fill="#1a1a1a" textLength="20.5" lengthAdjust="spacingAndGlyphs" font-family="Liberation Sans, sans-serif" font-weight="bold" stroke="#1a1a1a" stroke-width="0.3" >1.5</text>
<text x="142" y="903" font-size="16" text-anchor="end" fill="#1a1a1a" font-family="Liberation Sans, sans-serif" font-weight="bold" stroke="#1a1a1a" stroke-width="0.3" >2</text>
<text x="142" y="824" font-size="16" text-anchor="end" fill="#1a1a1a" textLength="20.5" lengthAdjust="spacingAndGlyphs" font-family="Liberation Sans, sans-serif" font-weight="bold" stroke="#1a1a1a" stroke-width="0.3" >2.5</text>
<text x="148.5" y="1076" font-size="16" text-anchor="middle" fill="#1a1a1a" textLength="21" lengthAdjust="spacingAndGlyphs" font-family="Liberation Sans, sans-serif" font-weight="bold" stroke="#1a1a1a" stroke-width="0.3" >0.1</text>
<text x="278.2" y="1076" font-size="16" text-anchor="middle" fill="#1a1a1a" font-family="Liberation Sans, sans-serif" font-weight="bold" stroke="#1a1a1a" stroke-width="0.3" >1</text>
<text x="410" y="1076" font-size="16" text-anchor="middle" fill="#1a1a1a" textLength="16" lengthAdjust="spacingAndGlyphs" font-family="Liberation Sans, sans-serif" font-weight="bold" stroke="#1a1a1a" stroke-width="0.3" >10</text>
<text x="345.5" y="1089.0" font-size="15.5" text-anchor="middle" fill="#1a1a1a" textLength="103" lengthAdjust="spacingAndGlyphs" font-family="Liberation Sans, sans-serif" font-weight="bold" stroke="#1a1a1a" stroke-width="0.3" >Diameter (mm)</text>
<text x="0" y="0" font-size="15" text-anchor="middle" fill="#1a1a1a" textLength="151" lengthAdjust="spacingAndGlyphs" font-family="Liberation Sans, sans-serif" font-weight="bold" stroke="#1a1a1a" stroke-width="0.3" transform="translate(110,897) rotate(-90)" dominant-baseline="central">Whorl expansion ratio</text>
<text x="583.5" y="771" font-size="26" font-family="Liberation Serif, serif" font-weight="bold" fill="#000" stroke="#000" stroke-width="1.3" stroke-linejoin="miter" textLength="17.5" lengthAdjust="spacingAndGlyphs">F</text>
<text x="716.5" y="771.5" font-size="26" font-family="Liberation Serif, serif" font-weight="bold" fill="#000" stroke="#000" stroke-width="1.3" stroke-linejoin="miter" textLength="19" lengthAdjust="spacingAndGlyphs">G</text>
<text x="859.5" y="770.7" font-size="26" font-family="Liberation Serif, serif" font-weight="bold" fill="#000" stroke="#000" stroke-width="1.3" stroke-linejoin="miter" textLength="22" lengthAdjust="spacingAndGlyphs">H</text>
<path d="M615.8 864.3C614.7 864.7 611.8 867.0 609.2 866.5C606.6 866.0 602.8 865.0 600.4 861.0C598.0 857.0 596.0 850.1 594.9 842.4C593.8 834.7 593.4 823.5 593.8 814.9C594.2 806.3 594.9 796.8 597.1 790.8C599.3 784.8 602.9 781.6 607.0 778.7C611.1 775.8 618.2 774.8 622.0 773.5C625.8 772.2 627.6 771.8 630.0 770.8C632.4 769.8 634.3 768.1 636.5 767.8C638.7 767.5 638.8 767.7 643.0 769.0C647.2 770.3 656.9 772.7 661.9 775.4C666.9 778.1 670.1 778.7 672.9 785.3C675.6 791.9 677.5 804.8 678.4 814.9C679.3 825.0 679.7 837.7 678.4 845.7C677.1 853.8 673.5 859.5 670.7 863.2C668.0 867.0 664.5 867.8 661.9 868.2C659.3 868.6 656.4 865.9 655.3 865.4" fill="none" stroke="#000" stroke-width="2.2" stroke-linejoin="round" stroke-linecap="round"/>
<path d="M626.3 872.6C625.6 872.4 623.3 872.2 621.9 871.4C620.5 870.6 618.7 869.4 617.7 867.8C616.7 866.2 616.3 865.3 616.0 862.0C615.7 858.7 615.1 852.1 615.8 847.9C616.5 843.7 617.9 839.8 620.1 836.9C622.3 834.0 624.9 831.8 628.9 830.8C632.9 829.8 640.3 829.4 644.3 830.8C648.3 832.2 651.2 835.9 653.1 839.1C655.0 842.3 655.4 845.8 655.8 850.1C656.2 854.4 656.3 861.5 655.6 865.0C654.9 868.5 653.1 869.6 651.6 870.8C650.1 872.0 647.4 872.0 646.6 872.2" fill="none" stroke="#000" stroke-width="2.0" stroke-linejoin="round" stroke-linecap="round"/>
<path d="M631.5 875.6C630.9 875.3 628.7 874.7 627.8 873.8C626.9 872.9 626.5 872.0 626.3 870.0C626.0 868.0 626.0 864.0 626.3 861.9C626.6 859.8 627.0 858.7 628.0 857.5C629.0 856.3 630.6 855.3 632.0 854.8C633.4 854.3 634.8 854.5 636.2 854.5C637.6 854.5 639.1 854.3 640.5 854.8C641.9 855.3 643.5 856.3 644.5 857.5C645.5 858.7 646.0 859.8 646.3 861.9C646.6 864.0 646.6 868.0 646.3 870.0C646.0 872.0 645.4 872.7 644.5 873.6C643.6 874.5 641.6 875.0 641.0 875.3" fill="none" stroke="#000" stroke-width="1.6" stroke-linejoin="round" stroke-linecap="round"/>
<path d="M633.0 875.5C632.6 875.0 631.2 873.4 630.8 872.4C630.4 871.4 630.5 870.5 630.8 869.6C631.1 868.7 631.9 867.8 632.8 867.2C633.7 866.7 635.1 866.3 636.2 866.3C637.3 866.3 638.7 866.7 639.6 867.2C640.5 867.8 641.2 868.7 641.5 869.6C641.8 870.5 641.8 871.4 641.5 872.4C641.2 873.4 639.8 875.0 639.5 875.5" fill="none" stroke="#000" stroke-width="1.3" stroke-linejoin="round" stroke-linecap="round"/>
<ellipse cx="636.6" cy="873.4" rx="2.6" ry="2.0" fill="none" stroke="#000" stroke-width="1.3"/>
<ellipse cx="636.8" cy="876.4" rx="1.8" ry="1.0" fill="none" stroke="#000" stroke-width="1.2"/>
<ellipse cx="636.8" cy="879.4" rx="1.8" ry="1.0" fill="none" stroke="#000" stroke-width="1.2"/>
<path d="M606.9 896.1C605.5 895.2 601.0 891.3 598.2 890.9C595.4 890.5 592.9 891.8 590.0 893.5C587.1 895.2 584.2 897.1 580.9 901.3C577.6 905.5 572.7 910.9 570.4 918.7C568.1 926.5 567.3 937.5 567.0 948.2C566.7 958.9 567.0 972.0 568.7 983.0C570.4 994.0 573.0 1005.5 577.4 1014.2C581.8 1022.9 588.1 1029.6 594.8 1035.1C601.4 1040.6 610.3 1044.5 617.3 1047.2C624.2 1050.0 630.4 1051.6 636.5 1051.6C642.6 1051.6 646.3 1050.5 653.8 1047.2C661.3 1043.9 674.4 1038.0 681.6 1031.6C688.9 1025.2 693.4 1018.5 697.3 1009.0C701.2 999.5 704.0 987.3 705.1 974.3C706.2 961.3 705.2 941.5 704.2 930.8C703.2 920.1 701.4 915.5 699.0 910.0C696.6 904.5 692.9 900.9 690.0 898.0C687.1 895.1 684.4 893.8 681.6 892.6C678.8 891.4 675.5 890.6 673.0 890.9C670.5 891.2 667.9 893.7 666.9 894.3" fill="none" stroke="#000" stroke-width="2.0" stroke-linejoin="round" stroke-linecap="round"/>
<path d="M622.8 885.7C622.4 885.4 621.8 884.2 620.7 883.9C619.6 883.6 617.8 882.6 616.0 883.9C614.2 885.2 611.5 888.9 610.0 891.6C608.5 894.3 607.5 896.4 607.0 900.0C606.5 903.6 606.0 907.4 606.9 913.4C607.8 919.4 609.1 930.6 612.1 936.0C615.1 941.4 620.9 943.8 625.0 946.0C629.1 948.2 632.7 949.1 636.5 949.1C640.3 949.1 644.0 948.2 648.0 946.0C652.0 943.8 657.6 941.4 660.8 936.0C663.9 930.6 665.9 919.4 666.9 913.4C667.9 907.4 666.8 903.4 666.5 900.0C666.2 896.6 666.3 895.5 665.0 892.8C663.7 890.1 661.0 885.1 658.8 883.9C656.6 882.7 652.8 885.4 651.6 885.7" fill="none" stroke="#000" stroke-width="2.0" stroke-linejoin="round" stroke-linecap="round"/>
<path d="M628.4 879.7C627.7 879.7 625.2 878.8 624.3 879.7C623.3 880.6 623.0 882.3 622.7 885.0C622.4 887.7 621.8 892.7 622.6 896.1C623.5 899.5 625.3 903.2 627.8 905.3C630.2 907.4 634.3 908.6 637.3 908.6C640.3 908.6 643.5 907.4 645.7 905.3C647.9 903.2 649.6 899.5 650.4 896.1C651.2 892.7 650.7 887.6 650.4 885.0C650.1 882.4 649.5 881.2 648.6 880.3C647.7 879.4 645.6 879.8 645.0 879.7" fill="none" stroke="#000" stroke-width="2.0" stroke-linejoin="round" stroke-linecap="round"/>
<path d="M631.0 879.5C630.7 879.9 629.3 880.6 629.0 882.0C628.7 883.4 628.6 886.2 629.3 888.0C630.0 889.8 631.7 891.5 633.0 892.5C634.3 893.5 635.8 894.0 637.3 894.0C638.8 894.0 640.5 893.5 641.8 892.5C643.0 891.5 644.3 889.8 644.8 888.0C645.3 886.2 645.1 883.4 644.8 882.0C644.5 880.6 643.3 879.9 643.0 879.5" fill="none" stroke="#000" stroke-width="1.7" stroke-linejoin="round" stroke-linecap="round"/>
<path d="M633.5 879.5C633.3 879.9 632.1 881.0 632.2 882.0C632.3 883.0 633.2 884.8 634.0 885.5C634.8 886.2 636.2 886.5 637.2 886.5C638.2 886.5 639.5 886.2 640.2 885.5C640.9 884.8 641.6 883.0 641.6 882.0C641.6 881.0 640.7 879.9 640.5 879.5" fill="none" stroke="#000" stroke-width="1.5" stroke-linejoin="round" stroke-linecap="round"/>
<path d="M759.0 855.9C758.1 856.1 756.2 858.0 753.9 857.3C751.6 856.6 747.4 855.1 745.1 851.5C742.8 847.9 741.0 843.4 740.0 835.4C739.0 827.4 738.8 813.7 739.3 803.2C739.8 792.7 740.9 780.0 742.9 772.4C744.9 764.8 747.2 762.3 751.0 757.8C754.8 753.3 759.9 748.4 765.6 745.4C771.3 742.4 778.1 738.9 785.4 739.5C792.7 740.1 803.3 744.7 809.5 749.0C815.7 753.3 819.4 758.5 822.7 765.1C826.0 771.7 828.0 779.7 829.3 788.5C830.6 797.3 830.8 808.3 830.7 817.8C830.6 827.3 830.1 839.2 828.5 845.6C826.9 852.0 823.6 853.7 821.2 855.9C818.8 858.1 816.1 858.8 813.9 858.8C811.7 858.8 809.0 856.4 808.0 855.9" fill="none" stroke="#000" stroke-width="2.2" stroke-linejoin="round" stroke-linecap="round"/>
<path d="M770.5 870.5C769.4 870.2 766.0 871.2 764.1 869.0C762.2 866.8 759.8 861.3 759.0 857.3C758.2 853.3 758.9 849.1 759.3 845.0C759.7 840.9 759.7 837.2 761.2 832.4C762.7 827.6 764.4 820.1 768.5 816.3C772.6 812.5 780.2 808.8 786.1 809.8C792.0 810.8 800.1 817.0 803.7 822.2C807.4 827.4 807.4 834.6 808.0 841.2C808.6 847.8 808.5 856.8 807.3 861.7C806.1 866.6 802.7 868.9 800.7 870.5C798.8 872.1 796.5 871.1 795.6 871.2" fill="none" stroke="#000" stroke-width="2.1" stroke-linejoin="round" stroke-linecap="round"/>
<path d="M776.7 876.0C776.0 875.8 773.4 875.8 772.5 874.5C771.6 873.2 771.3 871.1 771.1 868.0C770.9 864.9 770.7 859.2 771.1 856.0C771.5 852.8 772.4 850.8 773.5 849.0C774.6 847.2 776.3 846.2 778.0 845.5C779.7 844.8 781.7 844.6 783.5 844.6C785.3 844.6 787.3 844.8 789.0 845.5C790.7 846.2 792.4 847.2 793.5 849.0C794.6 850.8 795.4 852.8 795.8 856.0C796.2 859.2 796.0 864.9 795.8 868.0C795.6 871.1 795.4 873.2 794.5 874.5C793.6 875.8 791.3 875.8 790.7 876.0" fill="none" stroke="#000" stroke-width="2.0" stroke-linejoin="round" stroke-linecap="round"/>
<path d="M779.7 876.5C779.2 876.1 777.5 875.4 777.0 874.0C776.5 872.6 776.5 869.7 776.7 868.0C776.9 866.3 777.3 864.9 778.0 864.0C778.7 863.1 780.0 862.7 781.0 862.4C782.0 862.1 782.8 862.2 783.7 862.2C784.6 862.2 785.5 862.1 786.5 862.4C787.5 862.7 788.8 863.1 789.5 864.0C790.2 864.9 790.5 866.3 790.7 868.0C790.9 869.7 791.0 872.6 790.5 874.0C790.0 875.4 788.2 876.1 787.7 876.5" fill="none" stroke="#000" stroke-width="1.5" stroke-linejoin="round" stroke-linecap="round"/>
<ellipse cx="783.2" cy="873.6" rx="3.5" ry="3.2" fill="none" stroke="#000" stroke-width="1.4"/>
<ellipse cx="783.3" cy="879.2" rx="1.4" ry="2.4" fill="none" stroke="#000" stroke-width="1.4"/>
<path d="M751.2 912.3C750.0 911.8 746.8 908.3 744.1 909.3C741.4 910.3 737.4 909.8 735.1 918.4C732.8 927.0 730.6 945.2 730.1 960.6C729.6 976.0 730.1 997.5 732.1 1010.9C734.1 1024.3 736.7 1032.7 742.1 1041.1C747.5 1049.5 756.2 1056.0 764.3 1061.2C772.3 1066.4 781.7 1072.0 790.4 1072.3C799.1 1072.6 808.9 1068.5 816.6 1063.3C824.3 1058.1 832.4 1049.6 836.7 1041.1C841.0 1032.5 841.2 1021.0 842.5 1012.0C843.8 1003.0 844.0 996.5 844.2 987.0C844.4 977.5 843.9 964.5 843.5 955.0C843.1 945.5 843.6 937.1 841.8 930.0C840.0 922.9 835.9 915.9 832.7 912.3C829.5 908.7 825.3 908.5 822.6 908.3C819.9 908.1 817.6 910.8 816.6 911.3" fill="none" stroke="#000" stroke-width="2.0" stroke-linejoin="round" stroke-linecap="round"/>
<path d="M765.3 893.0C765.0 892.9 765.0 891.8 763.3 892.2C761.6 892.6 757.0 893.9 755.0 895.5C753.0 897.1 751.8 897.9 751.0 902.0C750.2 906.1 750.5 912.6 750.4 920.0C750.3 927.4 747.9 938.0 750.2 946.5C752.5 955.0 758.6 965.7 764.3 970.7C770.0 975.7 777.4 977.4 784.4 976.7C791.4 976.0 801.1 973.4 806.5 966.7C811.9 960.0 815.2 946.9 816.6 936.5C818.0 926.1 815.7 911.0 814.6 904.3C813.5 897.5 812.0 898.0 810.0 896.0C808.0 894.0 803.9 892.7 802.5 892.2C801.1 891.7 801.7 892.9 801.5 893.0" fill="none" stroke="#000" stroke-width="2.0" stroke-linejoin="round" stroke-linecap="round"/>
<path d="M775.1 882.8C773.9 883.0 769.8 883.1 768.1 884.3C766.4 885.5 765.6 886.4 765.1 890.0C764.6 893.6 764.6 901.7 765.1 906.0C765.6 910.3 766.4 913.1 768.0 916.0C769.6 918.9 772.5 921.8 775.0 923.5C777.5 925.2 780.5 926.5 783.2 926.5C786.0 926.5 789.0 925.2 791.5 923.5C794.0 921.8 796.5 918.9 798.0 916.0C799.5 913.1 800.3 910.3 800.8 906.0C801.3 901.7 801.0 893.5 800.8 890.0C800.5 886.5 800.7 886.5 799.3 885.3C797.9 884.1 793.4 883.2 792.2 882.8" fill="none" stroke="#000" stroke-width="2.0" stroke-linejoin="round" stroke-linecap="round"/>
<path d="M778.7 882.3C778.0 882.4 775.3 882.0 774.5 883.0C773.7 884.0 774.1 886.0 774.1 888.0C774.1 890.0 773.9 892.9 774.5 895.0C775.1 897.1 776.5 899.2 778.0 900.5C779.5 901.8 781.5 902.9 783.2 902.9C785.0 902.9 787.1 901.8 788.5 900.5C789.9 899.2 791.0 897.1 791.5 895.0C792.0 892.9 791.7 890.0 791.7 888.0C791.7 886.0 792.0 884.0 791.5 883.0C791.0 882.0 789.2 882.4 788.7 882.3" fill="none" stroke="#000" stroke-width="1.5" stroke-linejoin="round" stroke-linecap="round"/>
<path d="M780.0 882.0C779.8 882.3 778.8 883.1 778.7 884.0C778.6 884.9 778.4 886.5 779.2 887.5C780.0 888.5 781.9 890.3 783.3 890.3C784.7 890.3 786.6 888.5 787.5 887.5C788.4 886.5 788.8 884.9 788.7 884.0C788.6 883.1 787.3 882.3 787.0 882.0" fill="none" stroke="#000" stroke-width="1.4" stroke-linejoin="round" stroke-linecap="round"/>
<path d="M890.5 872.5C889.8 873.0 888.1 875.1 886.4 875.2C884.7 875.3 882.6 876.3 880.2 873.2C877.8 870.1 873.6 864.0 872.0 856.7C870.4 849.4 870.4 836.8 870.6 829.2C870.9 821.6 872.1 815.8 873.5 811.0C874.9 806.2 876.4 803.8 879.0 800.5C881.6 797.2 883.9 793.9 889.0 791.0C894.1 788.1 903.4 783.3 909.7 783.3C916.0 783.3 922.4 788.3 926.9 790.8C931.4 793.3 934.2 795.9 937.0 798.5C939.8 801.1 941.5 800.2 943.4 806.5C945.3 812.8 948.0 827.1 948.2 836.1C948.4 845.1 946.7 854.5 944.7 860.8C942.8 867.1 938.8 871.5 936.5 873.9C934.2 876.3 932.5 875.3 931.0 875.2C929.5 875.1 928.2 873.5 927.6 873.2" fill="none" stroke="#000" stroke-width="2.2" stroke-linejoin="round" stroke-linecap="round"/>
<path d="M899.4 880.0C898.5 879.8 895.4 879.8 894.0 878.5C892.6 877.2 891.6 875.1 891.0 872.0C890.4 868.9 890.4 863.7 890.5 860.0C890.6 856.3 890.6 852.8 891.5 850.0C892.4 847.2 894.2 844.7 896.0 843.0C897.8 841.3 899.9 840.5 902.0 839.8C904.1 839.1 906.6 838.9 908.9 838.9C911.2 838.9 913.8 839.1 916.0 839.8C918.2 840.5 920.3 841.3 922.0 843.0C923.7 844.7 925.4 847.2 926.3 850.0C927.2 852.8 927.2 856.3 927.3 860.0C927.4 863.7 927.3 868.9 926.8 872.0C926.2 875.1 925.2 877.2 924.0 878.5C922.8 879.8 920.3 879.8 919.6 880.0" fill="none" stroke="#000" stroke-width="2.1" stroke-linejoin="round" stroke-linecap="round"/>
<path d="M902.9 881.5C902.4 881.2 900.6 881.1 900.0 880.0C899.4 878.9 899.5 876.8 899.4 875.0C899.3 873.2 899.1 870.7 899.4 869.0C899.7 867.3 900.1 866.1 901.0 865.0C901.9 863.9 903.2 862.8 904.5 862.2C905.8 861.6 907.4 861.5 908.9 861.5C910.4 861.5 912.1 861.6 913.5 862.2C914.9 862.8 916.5 863.9 917.5 865.0C918.5 866.1 919.2 867.3 919.6 869.0C920.0 870.7 919.9 873.2 919.6 875.0C919.3 876.8 918.8 878.9 918.0 880.0C917.2 881.1 915.3 881.2 914.8 881.5" fill="none" stroke="#000" stroke-width="1.5" stroke-linejoin="round" stroke-linecap="round"/>
<path d="M905.3 882.0C904.9 881.7 903.6 880.8 903.2 880.0C902.8 879.2 902.7 878.3 902.9 877.5C903.1 876.7 903.5 875.6 904.5 875.0C905.5 874.4 907.5 874.0 908.9 874.0C910.3 874.0 912.0 874.4 913.0 875.0C914.0 875.6 914.5 876.7 914.8 877.5C915.0 878.3 914.8 879.2 914.5 880.0C914.2 880.8 913.2 881.7 913.0 882.0" fill="none" stroke="#000" stroke-width="1.4" stroke-linejoin="round" stroke-linecap="round"/>
<ellipse cx="909.1" cy="881" rx="3.6" ry="2.5" fill="none" stroke="#000" stroke-width="1.3"/>
<rect x="907.3" y="883" width="3.4" height="3.6" fill="#000"/>
<path d="M883.5 903.0C882.0 902.4 877.4 898.4 874.3 899.3C871.2 900.2 867.9 901.2 865.1 908.5C862.4 915.8 859.2 932.8 857.8 943.2C856.4 953.6 856.0 960.9 856.9 970.7C857.8 980.5 859.2 993.6 863.3 1001.8C867.4 1010.0 874.0 1015.8 881.6 1020.1C889.2 1024.4 900.9 1027.0 909.1 1027.5C917.4 1028.0 923.8 1027.2 931.1 1022.9C938.4 1018.6 948.3 1012.0 953.0 1001.8C957.7 991.6 959.1 974.3 959.4 961.5C959.7 948.7 956.9 934.6 954.9 924.9C952.9 915.1 950.1 907.7 947.5 903.0C944.9 898.3 941.6 897.0 939.3 896.5C937.0 896.0 934.7 899.6 933.8 900.2" fill="none" stroke="#000" stroke-width="2.0" stroke-linejoin="round" stroke-linecap="round"/>
<path d="M894.4 892.0C893.3 892.3 889.8 892.2 888.0 894.0C886.2 895.8 884.2 897.9 883.5 903.0C882.8 908.1 882.6 918.5 883.5 924.9C884.4 931.3 884.9 937.0 889.0 941.4C893.1 945.8 901.5 951.5 908.2 951.5C914.9 951.5 924.8 945.8 929.2 941.4C933.6 937.0 933.9 931.8 934.7 924.9C935.5 918.0 934.2 905.0 933.8 900.2C933.3 895.4 933.0 897.2 932.0 896.0C931.0 894.8 929.4 893.7 928.0 893.0C926.6 892.3 924.4 892.2 923.7 892.0" fill="none" stroke="#000" stroke-width="2.0" stroke-linejoin="round" stroke-linecap="round"/>
<path d="M901.1 887.0C900.5 887.2 898.7 887.4 897.6 888.2C896.5 889.0 895.1 890.0 894.5 892.0C893.9 894.0 893.9 897.2 894.0 900.0C894.1 902.8 894.0 906.4 895.0 909.0C896.0 911.6 897.7 914.0 900.0 915.5C902.3 917.0 906.0 918.0 908.9 918.0C911.8 918.0 915.3 917.0 917.5 915.5C919.7 914.0 921.2 911.6 922.0 909.0C922.8 906.4 922.5 902.8 922.5 900.0C922.5 897.2 922.5 894.0 922.0 892.0C921.5 890.0 920.3 889.0 919.5 888.2C918.7 887.4 917.6 887.2 917.2 887.0" fill="none" stroke="#000" stroke-width="2.0" stroke-linejoin="round" stroke-linecap="round"/>
<path d="M904.7 886.8C904.2 886.9 902.1 886.6 901.5 887.5C900.9 888.4 900.9 890.3 901.1 892.0C901.4 893.7 901.7 896.1 903.0 897.5C904.3 898.9 907.0 900.1 908.9 900.1C910.8 900.1 913.1 898.9 914.5 897.5C915.9 896.1 916.8 893.7 917.2 892.0C917.6 890.3 917.4 888.4 916.8 887.5C916.2 886.6 914.1 886.9 913.6 886.8" fill="none" stroke="#000" stroke-width="1.5" stroke-linejoin="round" stroke-linecap="round"/>
<path d="M906.0 886.5C905.8 886.8 904.8 887.4 904.7 888.0C904.6 888.6 904.8 889.5 905.5 890.0C906.2 890.5 907.7 891.2 908.9 891.2C910.1 891.2 911.7 890.5 912.5 890.0C913.3 889.5 913.6 888.6 913.6 888.0C913.6 887.4 912.7 886.8 912.5 886.5" fill="none" stroke="#000" stroke-width="1.4" stroke-linejoin="round" stroke-linecap="round"/>
<rect x="880" y="1057.7" width="60" height="5.5" fill="#000"/>
<text x="908.7" y="1056.7" font-size="16.3" text-anchor="middle" fill="#1a1a1a" textLength="45.5" lengthAdjust="spacingAndGlyphs" font-family="Liberation Sans, sans-serif" font-weight="bold" stroke="#1a1a1a" stroke-width="0.3" >10 mm</text>
</svg></body></html>
